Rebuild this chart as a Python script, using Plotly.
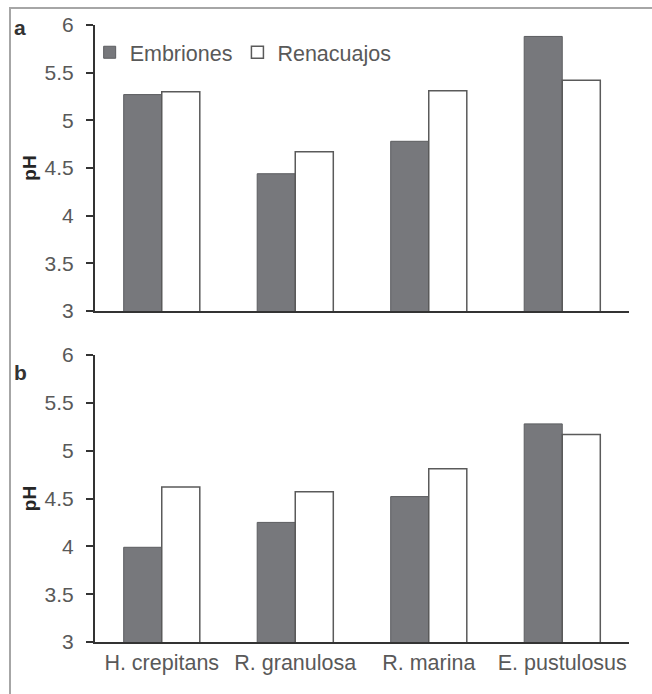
import plotly.graph_objects as go
from plotly.subplots import make_subplots

species = ["H. crepitans", "R. granulosa", "R. marina", "E. pustulosus"]
series_names = ["Embriones", "Renacuajos"]
# Panel a
a_embriones = [5.27, 4.44, 4.78, 5.88]
a_renacuajos = [5.30, 4.67, 5.31, 5.42]
# Panel b
b_embriones = [3.99, 4.25, 4.52, 5.28]
b_renacuajos = [4.62, 4.57, 4.81, 5.17]
y_ticks = [3, 3.5, 4, 4.5, 5, 5.5, 6]
y_ticktext = ["3", "3.5", "4", "4.5", "5", "5.5", "6"]
panel_labels = ["a", "b"]

FONT = "Liberation Sans, Arial, sans-serif"
TXT = "#595959"
EMB_FILL = "#77787c"
EMB_LINE = "#5c5d60"
REN_FILL = "#ffffff"
REN_LINE = "#5a5a5a"
AX = "#333333"

fig = make_subplots(rows=2, cols=1, shared_xaxes=False, vertical_spacing=0.0)

for row, (emb, ren) in enumerate([(a_embriones, a_renacuajos), (b_embriones, b_renacuajos)], start=1):
    fig.add_trace(go.Bar(x=species, y=emb, name=series_names[0],
                         marker=dict(color=EMB_FILL, line=dict(color=EMB_LINE, width=1)),
                         showlegend=(row == 1), legendgroup="emb"), row=row, col=1)
    fig.add_trace(go.Bar(x=species, y=ren, name=series_names[1],
                         marker=dict(color=REN_FILL, line=dict(color=REN_LINE, width=1.5)),
                         showlegend=(row == 1), legendgroup="ren"), row=row, col=1)

L, R, T, B = 95, 23, 25, 52
H = 694 - T - B
W = 652 - L - R
fig.update_layout(
    width=652, height=694,
    margin=dict(l=L, r=R, t=T, b=B, autoexpand=False),
    paper_bgcolor="white", plot_bgcolor="white",
    barmode="group", bargap=0.43, bargroupgap=0.0,
    font=dict(family=FONT, size=21, color=TXT),
    legend=dict(orientation="h", x=-0.010, y=0.989, xanchor="left", yanchor="top",
                font=dict(family=FONT, size=21.5, color=TXT), bgcolor="rgba(0,0,0,0)",
                itemclick=False, traceorder="normal"),
    showlegend=True,
)

dom_a = [(642 - 311) / H, 1.0]
dom_b = [0.0, (642 - 355) / H]
fig.update_layout(
    yaxis=dict(domain=dom_a), yaxis2=dict(domain=dom_b),
    xaxis=dict(showticklabels=False), xaxis2=dict(showticklabels=True),
)

for i in (1, 2):
    fig.update_yaxes(range=[3, 6], tickvals=y_ticks, ticktext=y_ticktext,
                     showgrid=False, zeroline=False, showline=True, linecolor=AX, linewidth=2,
                     ticks="outside", ticklen=7, tickwidth=2, tickcolor=AX,
                     ticklabelstandoff=8,
                     tickfont=dict(family=FONT, size=21, color=TXT),
                     title=dict(text="<b>pH</b>", font=dict(family=FONT, size=19, color="#262626"), standoff=3),
                     row=i, col=1)
    fig.update_xaxes(showgrid=False, zeroline=False, showline=True, linecolor=AX, linewidth=2,
                     ticks="", tickfont=dict(family=FONT, size=21.5, color=TXT),
                     row=i, col=1)

for lab, yp in zip(panel_labels, [(642 - 27) / H, (642 - 373) / H]):
    fig.add_annotation(text=f"<b>{lab}</b>", xref="paper", yref="paper",
                       x=(20 - L) / W, y=yp, showarrow=False, xanchor="center", yanchor="middle",
                       font=dict(family=FONT, size=21, color="#333333"))

# outer frame
fig.add_shape(type="rect", xref="paper", yref="paper",
              x0=(10 - L) / W, x1=(665 - L) / W, y0=(642 - 710) / H, y1=(642 - 8) / H,
              line=dict(color="#a6a6a6", width=2), fillcolor="rgba(0,0,0,0)", layer="below")

fig.write_html("out.html", config={"displayModeBar": False},
               post_script="document.body.style.margin='0';document.body.style.overflow='hidden';")
